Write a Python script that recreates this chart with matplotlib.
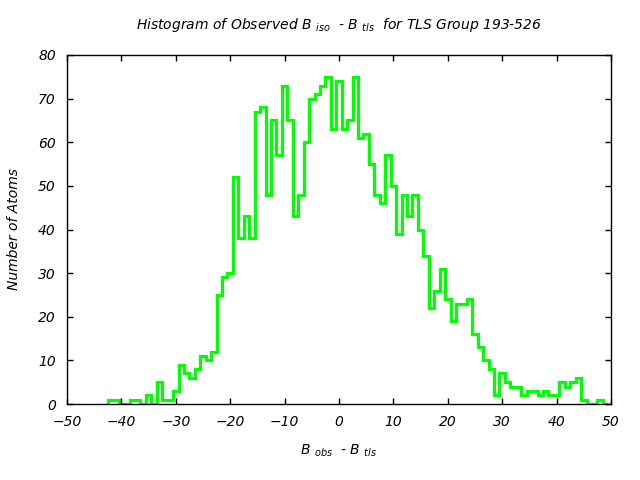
import numpy as np
import matplotlib
matplotlib.use("Agg")
import matplotlib.pyplot as plt

# bin centres (integers) and counts
bin_centres = list(range(-42, 50))
counts = [1, 1, 0, 0, 1, 1, 0, 2, 0, 5,
          1, 1, 3, 9, 7, 6, 8, 11, 10, 12,
          25, 29, 30, 52, 38, 43, 38, 67, 68, 48,
          65, 57, 73, 65, 43, 48, 60, 70, 71, 73,
          75, 63, 74, 63, 65, 75, 61, 62, 55, 48,
          46, 57, 50, 39, 48, 43, 48, 40, 34, 22,
          26, 31, 24, 19, 23, 23, 24, 16, 13, 10,
          8, 2, 7, 5, 4, 4, 2, 3, 3, 2,
          3, 2, 2, 5, 4, 5, 6, 1, 0, 0,
          1, 0]
x_ticks = list(range(-50, 51, 10))
y_ticks = list(range(0, 81, 10))

plt.rcParams["font.family"] = "DejaVu Sans"
plt.rcParams["font.style"] = "italic"
plt.rcParams["mathtext.default"] = "it"

fig = plt.figure(figsize=(6.4, 4.8), dpi=100)
ax = fig.add_axes([67 / 640, 1 - 404 / 480, (611 - 67) / 640, (404 - 55) / 480])

centres = np.array(bin_centres, dtype=float)
edges = np.append(centres - 0.5, centres[-1] + 0.5)
ax.stairs(counts, edges, baseline=0, color="#00ff00", linewidth=2.3)

ax.set_xlim(-50, 50)
ax.set_ylim(0, 80)
ax.set_xticks(x_ticks)
ax.set_yticks(y_ticks)
ax.tick_params(direction="in", length=4, width=1, top=True, right=True,
               labelsize=10, pad=8)
for lab in ax.get_xticklabels() + ax.get_yticklabels():
    lab.set_fontstyle("italic")
for s in ax.spines.values():
    s.set_linewidth(1.0)

ax.set_title(r"Histogram of Observed B $_{iso}$  - B $_{tls}$  for TLS Group 193-526",
             fontsize=10, style="italic", pad=19)
ax.set_xlabel(r"B $_{obs}$  - B $_{tls}$", fontsize=10, style="italic", labelpad=10)
ax.set_ylabel("Number of Atoms", fontsize=10, style="italic", labelpad=12)

fig.savefig("out.png", dpi=100)
